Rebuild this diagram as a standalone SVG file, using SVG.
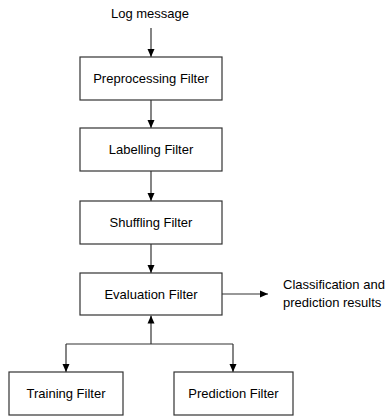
<svg xmlns="http://www.w3.org/2000/svg" width="385" height="416" viewBox="0 0 385 416">
<defs>
<marker id="ah" markerWidth="8" markerHeight="8" refX="8" refY="4" orient="auto" markerUnits="userSpaceOnUse">
<path d="M0,0.5 L8,4 L0,7.5 Z" fill="#000"/>
</marker>
<style>
.box{fill:#fff;stroke:#333;stroke-width:1.2}
.t{font-family:"Liberation Sans",Arial,sans-serif;font-size:13px;fill:#000;text-anchor:middle}
.tl{font-family:"Liberation Sans",Arial,sans-serif;font-size:13px;fill:#000}
.c{fill:none;stroke:#333;stroke-width:1.2;marker-end:url(#ah)}
.cn{fill:none;stroke:#333;stroke-width:1.2}
</style>
</defs>
<rect width="385" height="416" fill="#fff"/>
<g id="connectors">
<path class="c" d="M151,28 V57"/>
<path class="c" d="M151,100 V128"/>
<path class="c" d="M151,171 V201"/>
<path class="c" d="M151,244 V273"/>
<path class="c" d="M151,344 V315.5"/>
<path class="cn" d="M66,344 H233"/>
<path class="c" d="M66,344 V372"/>
<path class="c" d="M233,344 V372"/>
<path class="c" d="M222,294 H268"/>
</g>
<g id="log"><text class="t" x="150" y="18">Log message</text></g>
<g id="preprocessing"><rect class="box" x="80" y="57" width="142" height="43"/><text class="t" x="151" y="83">Preprocessing Filter</text></g>
<g id="labelling"><rect class="box" x="80" y="128" width="142" height="43"/><text class="t" x="151" y="154">Labelling Filter</text></g>
<g id="shuffling"><rect class="box" x="80" y="201" width="142" height="43"/><text class="t" x="151" y="227">Shuffling Filter</text></g>
<g id="evaluation"><rect class="box" x="80" y="273" width="142" height="42"/><text class="t" x="151" y="299">Evaluation Filter</text></g>
<g id="training"><rect class="box" x="9" y="372" width="114" height="43"/><text class="t" x="66" y="398">Training Filter</text></g>
<g id="prediction"><rect class="box" x="174" y="372" width="119" height="43"/><text class="t" x="233.5" y="398">Prediction Filter</text></g>
<g id="results"><text class="tl" x="283" y="289">Classification and</text><text class="tl" x="283" y="307">prediction results</text></g>
</svg>
